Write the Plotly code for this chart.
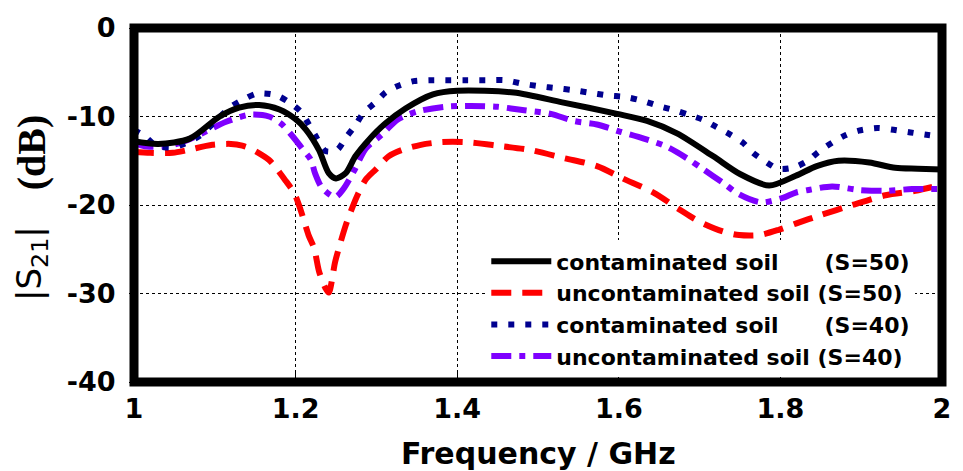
import plotly.graph_objects as go

# ---------------- data ----------------
f_cont50 = [1.0, 1.03, 1.069, 1.106, 1.13, 1.155, 1.18, 1.2, 1.213, 1.229, 1.241, 1.25, 1.262, 1.274,
            1.29, 1.311, 1.336, 1.37, 1.40, 1.47, 1.53, 1.598, 1.635, 1.672, 1.717, 1.75, 1.786,
            1.819, 1.845, 1.872, 1.91, 1.942, 1.97, 2.0]
s21_cont50 = [-12.8, -13.1, -12.5, -10.0, -9.0, -8.7, -9.2, -10.3, -11.5, -13.8, -16.4, -17.0, -16.4, -14.5,
              -12.7, -10.8, -9.1, -7.5, -7.1, -7.3, -8.4, -9.7, -10.5, -11.9, -14.5, -16.5, -17.8,
              -16.7, -15.6, -15.0, -15.2, -15.8, -15.9, -16.0]

f_uncont50 = [1.0, 1.02, 1.048, 1.066, 1.097, 1.12, 1.134, 1.146, 1.167, 1.175, 1.188, 1.198, 1.206,
              1.216, 1.223, 1.229, 1.237, 1.241, 1.249, 1.256, 1.262, 1.268, 1.276, 1.287, 1.299,
              1.315, 1.331, 1.355, 1.38, 1.41, 1.45, 1.491, 1.532, 1.573, 1.605, 1.643, 1.675, 1.700,
              1.729, 1.749, 1.774, 1.798, 1.819, 1.848, 1.889, 1.930, 1.967, 2.0]
s21_uncont50 = [-14.0, -14.1, -14.1, -13.8, -13.2, -13.1, -13.3, -13.7, -14.9, -15.7, -17.3, -18.6, -20.5,
                -23.4, -24.9, -27.5, -29.4, -29.9, -26.4, -24.1, -22.3, -20.8, -19.0, -17.1, -16.0,
                -14.5, -13.8, -13.2, -12.9, -12.9, -13.3, -13.8, -14.7, -15.6, -17.0, -18.6, -20.5, -21.9,
                -23.0, -23.4, -23.4, -22.8, -22.1, -21.2, -20.0, -18.9, -18.4, -17.7]

f_cont40 = [1.0, 1.013, 1.026, 1.048, 1.081, 1.10, 1.12, 1.137, 1.153, 1.176, 1.192, 1.207, 1.217, 1.226,
            1.237, 1.251, 1.263, 1.274, 1.284, 1.299, 1.311, 1.325, 1.346, 1.366, 1.389, 1.41, 1.435,
            1.459, 1.481, 1.503, 1.523, 1.542, 1.563, 1.585, 1.608, 1.628, 1.649, 1.669, 1.686, 1.705,
            1.721, 1.739, 1.754, 1.766, 1.780, 1.797, 1.815, 1.834, 1.847, 1.865, 1.881, 1.897, 1.920,
            1.940, 1.961, 1.983, 2.0]
s21_cont40 = [-11.5, -12.2, -13.2, -13.5, -12.2, -10.6, -8.9, -8.0, -7.4, -7.6, -8.4, -9.5, -11.0, -12.4,
              -13.9, -13.8, -12.3, -11.0, -9.6, -8.4, -7.3, -6.6, -6.0, -5.9, -5.9, -5.9, -5.9,
              -5.9, -6.3, -6.6, -6.8, -7.0, -7.3, -7.6, -7.8, -8.2, -8.8, -9.3, -9.8, -10.4,
              -11.2, -12.1, -13.0, -14.1, -15.0, -15.9, -15.8, -15.0, -14.0, -12.9, -12.1, -11.6, -11.3,
              -11.5, -11.8, -12.1, -12.3]

f_uncont40 = [1.0, 1.016, 1.044, 1.065, 1.091, 1.114, 1.143, 1.167, 1.182, 1.196, 1.208, 1.219, 1.224,
              1.233, 1.249, 1.259, 1.272, 1.287, 1.306, 1.327, 1.352, 1.385, 1.417, 1.45, 1.483, 1.516,
              1.544, 1.573, 1.601, 1.631, 1.659, 1.684, 1.705, 1.729, 1.749, 1.776, 1.803, 1.819, 1.835,
              1.864, 1.897, 1.930, 1.963, 2.0]
s21_uncont40 = [-13.0, -13.4, -13.3, -12.7, -11.6, -10.6, -9.8, -10.0, -10.8, -12.2, -13.6, -14.9, -16.4,
                -18.1, -19.1, -18.2, -16.2, -13.6, -12.1, -10.3, -9.4, -8.9, -8.8, -8.9, -9.3, -9.7,
                -10.5, -10.9, -11.7, -12.5, -13.4, -14.7, -16.0, -17.5, -18.8, -19.7, -19.2, -18.6, -18.3,
                -17.9, -18.3, -18.4, -18.2, -18.2]

series_names = [
    "contaminated soil\u00a0\u00a0\u00a0\u00a0\u00a0\u00a0(S=50)",
    "uncontaminated soil (S=50)",
    "contaminated soil\u00a0\u00a0\u00a0\u00a0\u00a0\u00a0(S=40)",
    "uncontaminated soil (S=40)",
]

x_tick_vals = [1, 1.2, 1.4, 1.6, 1.8, 2]
x_tick_text = ["1", "1.2", "1.4", "1.6", "1.8", "2"]
y_tick_vals = [0, -10, -20, -30, -40]
y_tick_text = ["0", "-10", "-20", "-30", "-40"]

# ---------------- figure ----------------
fig = go.Figure()
styles = [
    dict(color="#000000", width=6, dash="solid"),
    dict(color="#FF0000", width=6, dash="20px,11px"),
    dict(color="#00008F", width=6, dash="6px,11px"),
    dict(color="#7F00FF", width=6, dash="20px,8px,6px,8px"),
]
data = [(f_cont50, s21_cont50), (f_uncont50, s21_uncont50),
        (f_cont40, s21_cont40), (f_uncont40, s21_uncont40)]
# draw order: back to front
order = [1, 3, 2, 0]
for i in order:
    fx, fy = data[i]
    fig.add_trace(go.Scatter(x=fx, y=fy, mode="lines", name=series_names[i],
                             line=dict(shape="spline", smoothing=0.8, **styles[i]),
                             legendrank=i + 1))

tickfont = dict(family="DejaVu Sans", size=27, color="#000000", weight="bold")

fig.update_layout(
    width=963, height=471,
    margin=dict(l=134, r=16, t=23, b=89, pad=0),
    paper_bgcolor="#FFFFFF", plot_bgcolor="#FFFFFF",
    showlegend=True,
    legend=dict(x=0.436, y=0.400, xanchor="left", yanchor="top",
                bgcolor="#FFFFFF", borderwidth=0,
                font=dict(family="DejaVu Sans", size=22, color="#000000", weight="bold"),
                traceorder="normal", tracegroupgap=0, itemwidth=60),
    xaxis=dict(range=[1, 2], tickvals=x_tick_vals, ticktext=x_tick_text,
               showgrid=True, gridcolor="#000000", gridwidth=1, griddash="3px,3px",
               ticks="inside", ticklen=10, tickcolor="#000000", tickwidth=1,
               tickfont=tickfont, ticklabelstandoff=8,
               zeroline=False, showline=False),
    yaxis=dict(range=[-40, 0], tickvals=y_tick_vals, ticktext=y_tick_text,
               showgrid=True, gridcolor="#000000", gridwidth=1, griddash="3px,3px",
               ticks="outside", ticklen=4, tickcolor="#000000", tickwidth=1,
               tickfont=tickfont, ticklabelstandoff=8,
               zeroline=False, showline=False),
    shapes=[dict(type="rect", xref="paper", yref="paper", x0=0, x1=1, y0=0, y1=1,
                 line=dict(color="#000000", width=9), fillcolor="rgba(0,0,0,0)", layer="above")],
    annotations=[
        dict(text="Frequency / GHz", xref="paper", yref="paper", x=0.5, y=-0.203,
             xanchor="center", yanchor="middle", showarrow=False,
             font=dict(family="DejaVu Sans", size=30, color="#000000", weight="bold")),
        dict(text="|S<sub>21</sub>|",
             xref="paper", yref="paper", x=-0.1267, y=0.335, textangle=-90,
             xanchor="center", yanchor="middle", showarrow=False,
             font=dict(family="DejaVu Sans", size=34, color="#000000", weight="normal")),
        dict(text="(dB)",
             xref="paper", yref="paper", x=-0.1267, y=0.648, textangle=-90,
             xanchor="center", yanchor="middle", showarrow=False,
             font=dict(family="Liberation Serif", size=40, color="#000000", weight="bold")),
    ],
)

fig.write_html("out.html")
